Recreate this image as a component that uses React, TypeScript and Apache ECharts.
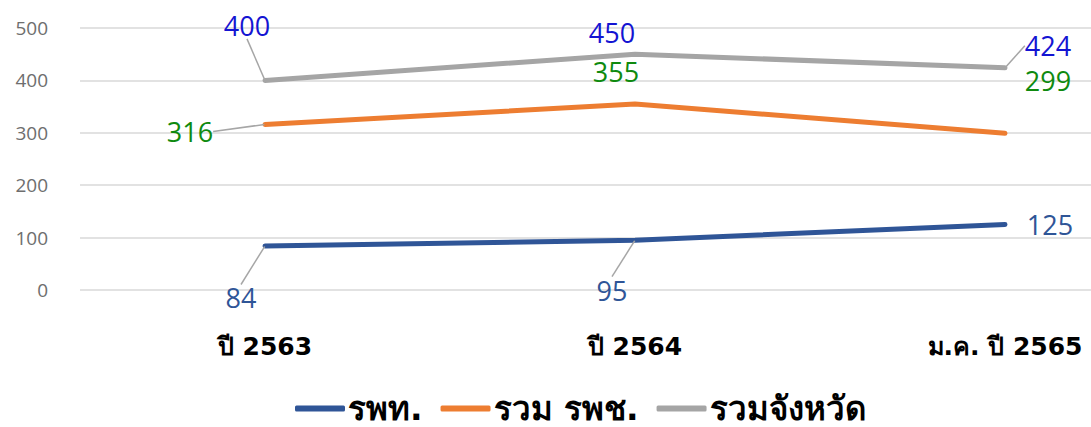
import React, { useEffect, useRef } from "react";
import * as echarts from "echarts";

const categories = ["ปี 2563", "ปี 2564", "ม.ค. ปี 2565"];
const seriesNames = ["รพท.", "รวม รพช.", "รวมจังหวัด"];
const rptValues = [84, 95, 125];
const rpcValues = [316, 355, 299];
const provinceValues = [400, 450, 424];
const yTicks = [0, 100, 200, 300, 400, 500];

const colors = ["#2F5597", "#ED7D31", "#A5A5A5"];
const labelColors = ["#2F5597", "#0F8A0F", "#1414D2"];
// label offsets (dx, dy) relative to the point, and whether a leader line is drawn
const labelOffsets: number[][][] = [
  [[-24, 52], [-23, 50], [45, 0]],
  [[-75, 7], [-19, -32], [43, -53]],
  [[-18, -55], [-23, -22], [43, -22]],
];
const leaderLines: boolean[][] = [
  [true, true, false],
  [true, false, false],
  [true, false, true],
];

const numFont = "'Open Sans', Lato, 'Noto Sans', sans-serif";
const catFont = "'DejaVu Sans', 'Noto Sans', sans-serif";
const thaiFont = "'DejaVu Sans', 'Noto Sans', sans-serif";

export default function App() {
  const ref = useRef<HTMLDivElement>(null);
  useEffect(() => {
    if (!ref.current) return;
    const chart = echarts.init(ref.current, undefined, { renderer: "svg" });
    const allValues = [rptValues, rpcValues, provinceValues];
    const series = allValues.map((vals, si) => ({
      name: seriesNames[si],
      type: "line",
      data: vals.map((v, i) => ({
        value: v,
        labelLine: { show: leaderLines[si][i] },
      })),
      symbol: "circle",
      symbolSize: 1,
      showSymbol: true,
      itemStyle: { color: colors[si] },
      lineStyle: { color: colors[si], width: 5, cap: "round", join: "round" },
      label: {
        show: true,
        position: "inside",
        align: "center",
        verticalAlign: "middle",
        color: labelColors[si],
        fontSize: 27,
        fontFamily: numFont,
      },
      labelLine: {
        show: true,
        lineStyle: { color: "#A6A6A6", width: 1.5 },
      },
      labelLayout: (params: any) => {
        const o = labelOffsets[si][params.dataIndex];
        return { dx: o[0], dy: o[1] };
      },
      z: 3 - si,
    }));
    chart.setOption({
      animation: false,
      backgroundColor: "#FFFFFF",
      color: colors,
      grid: {
        left: 80,
        top: 28,
        height: 262,
        width: 1110,
        outerBoundsMode: "none",
        containLabel: false,
      },
      xAxis: {
        type: "category",
        data: categories,
        boundaryGap: true,
        axisLine: { show: false },
        axisTick: { show: false },
        axisLabel: {
          color: "#000000",
          fontSize: 25,
          fontWeight: "bold",
          fontFamily: catFont,
          margin: 44,
        },
      },
      yAxis: {
        type: "value",
        min: yTicks[0],
        max: yTicks[yTicks.length - 1],
        interval: 100,
        axisLine: { show: false },
        axisTick: { show: false },
        splitLine: { lineStyle: { color: "#D9D9D9", width: 1.5 } },
        axisLabel: {
          color: "#6E6E6E",
          fontSize: 19,
          fontFamily: numFont,
          margin: 32,
        },
      },
      legend: {
        bottom: -3,
        left: 290,
        icon: "roundRect",
        itemWidth: 50,
        itemHeight: 6,
        itemGap: 18,
        textStyle: {
          color: "#000000",
          fontSize: 33,
          fontWeight: "bold",
          fontFamily: thaiFont,
          padding: [0, 0, 0, -2],
        },
        data: seriesNames,
      },
      series,
    });
    return () => chart.dispose();
  }, []);
  return (
    <div
      ref={ref}
      style={{ position: "absolute", left: 0, top: 0, width: 1091, height: 427, overflow: "hidden" }}
    />
  );
}
